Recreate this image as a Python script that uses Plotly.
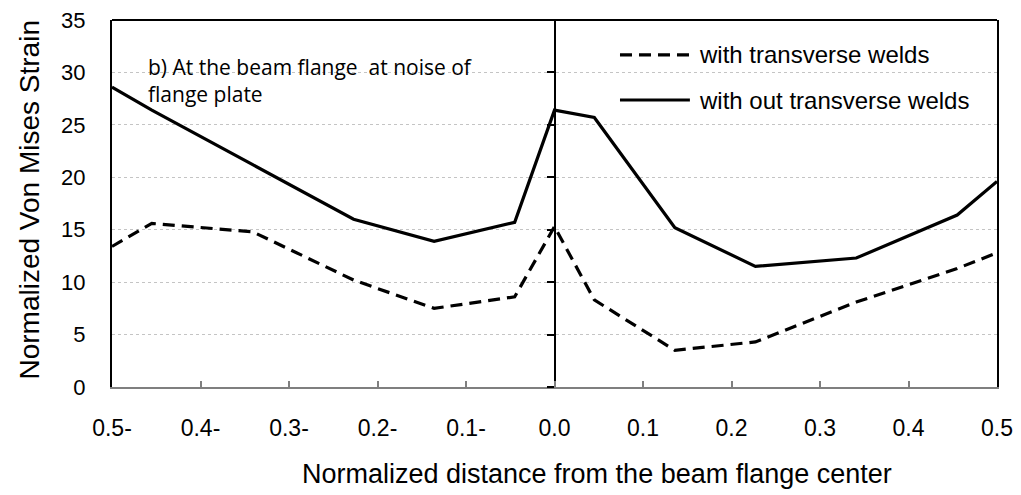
import plotly.graph_objects as go

# Normalized position along the beam flange
x_pos = [-0.5, -0.455, -0.341, -0.227, -0.136, -0.045, 0.0,
         0.045, 0.136, 0.227, 0.341, 0.455, 0.5]

# Normalized Von Mises strain for both weld configurations
with_welds = [13.4, 15.6, 14.8, 10.2, 7.5, 8.6, 15.3,
              8.3, 3.5, 4.3, 8.1, 11.3, 12.8]
without_welds = [28.6, 26.4, 21.2, 16.0, 13.9, 15.7, 26.4,
                 25.7, 15.2, 11.5, 12.3, 16.4, 19.6]

x_ticks = [-0.5, -0.4, -0.3, -0.2, -0.1, 0.0, 0.1, 0.2, 0.3, 0.4, 0.5]
x_tick_text = ["0.5-", "0.4-", "0.3-", "0.2-", "0.1-", "0.0",
               "0.1", "0.2", "0.3", "0.4", "0.5"]

series_names = ["with transverse welds", "with out transverse welds"]
note_text = "b) At the beam flange\u00a0 at noise of<br>flange plate"

FONT = "Arial, Liberation Sans, sans-serif"
DASH = "12px,7px"

fig = go.Figure()
fig.add_trace(go.Scatter(x=x_pos, y=with_welds, mode="lines", name=series_names[0],
                         line=dict(color="black", width=3.2, dash=DASH),
                         showlegend=False))
fig.add_trace(go.Scatter(x=x_pos, y=without_welds, mode="lines", name=series_names[1],
                         line=dict(color="black", width=3.2),
                         showlegend=False))
# carrier for the vertical axis that crosses at x = 0 (draws nothing itself)
fig.add_trace(go.Scatter(x=[0], y=[0], yaxis="y2", mode="markers",
                         marker=dict(opacity=0), showlegend=False, hoverinfo="skip"))

# hand-drawn legend with long line samples
legend_rows = [(0.905, DASH), (0.782, "solid")]
for (yy, dash), name in zip(legend_rows, series_names):
    fig.add_shape(type="line", xref="paper", yref="paper",
                  x0=0.574, x1=0.653, y0=yy, y1=yy,
                  line=dict(color="black", width=3.2, dash=dash))
    fig.add_annotation(xref="paper", yref="paper", x=0.661, y=yy,
                       text=name, showarrow=False, xanchor="left", yanchor="middle",
                       font=dict(family=FONT, size=24, color="black"))

# top border of the plot area
fig.add_shape(type="line", xref="paper", yref="paper", x0=0, x1=1, y0=1, y1=1,
              line=dict(color="black", width=2))

# note in the upper-left corner
fig.add_annotation(xref="paper", yref="paper", x=0.0385, y=0.8365,
                   text=note_text, showarrow=False, xanchor="left", yanchor="middle",
                   align="left",
                   font=dict(family="Open Sans, Lato, sans-serif", size=21, color="black"))

# axis titles
fig.add_annotation(xref="paper", yref="paper", x=0.548, y=-0.237,
                   text="Normalized distance from the beam flange center",
                   showarrow=False, xanchor="center", yanchor="middle",
                   font=dict(family=FONT, size=27, color="black"))
fig.add_annotation(xref="paper", yref="paper", x=-0.093, y=0.51,
                   text="Normalized Von Mises Strain", textangle=-90,
                   showarrow=False, xanchor="center", yanchor="middle",
                   font=dict(family=FONT, size=28, color="black"))

fig.update_layout(
    width=1021, height=495,
    margin=dict(l=112, r=24, t=20, b=108, autoexpand=False),
    plot_bgcolor="white", paper_bgcolor="white",
    font=dict(family=FONT, color="black"),
    xaxis=dict(range=[-0.5, 0.5], tickvals=x_ticks, ticktext=x_tick_text,
               showgrid=False, zeroline=False,
               showline=True, linecolor="#7f7f7f", linewidth=2,
               ticks="inside", ticklen=6, tickwidth=1.5, tickcolor="#7f7f7f",
               ticklabelstandoff=19, tickfont=dict(size=23, family=FONT)),
    yaxis=dict(range=[0, 35], dtick=5, tick0=0,
               showgrid=True, gridcolor="#c4c4c4", gridwidth=1, griddash="dot",
               zeroline=False, showline=True, linecolor="black", linewidth=2,
               mirror=True, ticks="", ticklabelstandoff=20,
               tickfont=dict(size=22, family=FONT)),
    # vertical axis crossing at x = 0
    yaxis2=dict(range=[0, 35], dtick=5, tick0=0, overlaying="y", anchor="free",
                position=0.5, side="left", showgrid=False, zeroline=False,
                showticklabels=False, showline=True, linecolor="black", linewidth=2,
                ticks="outside", ticklen=7, tickwidth=2, tickcolor="black"),
)

fig.write_html("out.html")
